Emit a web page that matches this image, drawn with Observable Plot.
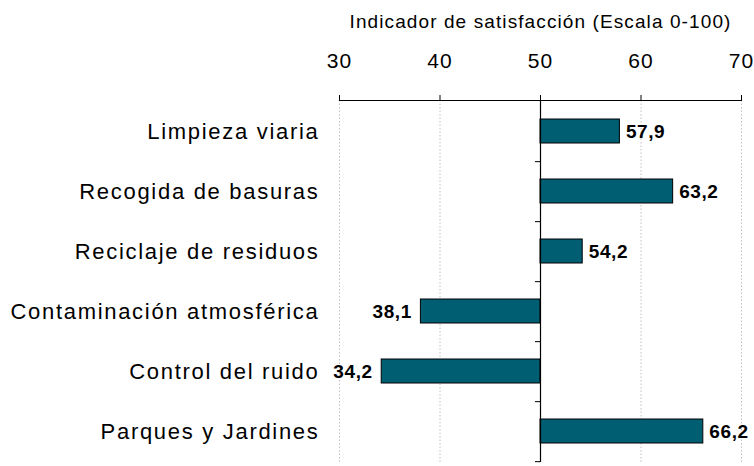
<!DOCTYPE html>
<html>
<head>
<meta charset="utf-8">
<script src="https://cdn.jsdelivr.net/npm/d3@7"></script>
<script src="https://cdn.jsdelivr.net/npm/@observablehq/plot@0.6"></script>
<style>
  html, body { margin: 0; padding: 0; background: #fff; }
  #chart svg { display: block; }
  #chart g[aria-label="y-axis tick label"] text { letter-spacing: 1.7px; }
  #chart g[aria-label="x-axis tick label"] text { letter-spacing: 1px; }
  #chart g.title text { letter-spacing: 1.1px; }
  #chart g.vals text { letter-spacing: 0.6px; }
</style>
</head>
<body>
<div id="chart"></div>
<script>
const categories = [
  "Limpieza viaria",
  "Recogida de basuras",
  "Reciclaje de residuos",
  "Contaminación atmosférica",
  "Control del ruido",
  "Parques y Jardines"
];
const values = [57.9, 63.2, 54.2, 38.1, 34.2, 66.2];
const xTicks = [30, 40, 50, 60, 70];
const gridTicks = [30, 40, 60, 70];
const baseline = 50;
const title = "Indicador de satisfacción (Escala 0-100)";

const data = categories.map((c, i) => ({category: c, value: values[i]}));
const above = data.filter(d => d.value >= baseline);
const below = data.filter(d => d.value < baseline);

const W = 754, H = 466;
const mTop = 100, mBottom = 4, mLeft = 339, mRight = 13;
const step = (H - mTop - mBottom) / categories.length;
const fmt = v => v.toFixed(1).replace(".", ",");
const barColor = "#005e73";
const valStyle = {y: "category", x: "value", text: d => fmt(d.value), fontWeight: "bold", fontSize: 19, fill: "#000", className: "vals"};

const chart = Plot.plot({
  width: W,
  height: H,
  marginTop: mTop,
  marginBottom: mBottom,
  marginLeft: mLeft,
  marginRight: mRight,
  style: {fontFamily: "'Liberation Sans', Arial, sans-serif", color: "#000", background: "#fff"},
  x: {domain: [30, 70]},
  y: {domain: categories, paddingInner: 0.6, paddingOuter: 0.3},
  marks: [
    Plot.ruleX(gridTicks, {stroke: "#c0c0c0", strokeDasharray: "1.5,2"}),
    Plot.barX(data, {y: "category", x1: baseline, x2: "value", fill: barColor, stroke: "#000", strokeWidth: 1}),
    Plot.ruleX([baseline], {stroke: "#000", strokeWidth: 1.2}),
    Plot.ruleY(categories, {y: d => d, x1: baseline - 0.5, x2: baseline, dy: step / 2, stroke: "#000"}),
    Plot.frame({anchor: "top", stroke: "#000", strokeWidth: 1.2}),
    Plot.axisX({anchor: "top", ticks: xTicks, tickSize: 6, tickPadding: 27, fontSize: 21, label: null, tickFormat: d => String(d)}),
    Plot.axisY({tickSize: 0, tickPadding: 20, fontSize: 22, label: null}),
    Plot.text(above, {...valStyle, textAnchor: "start", dx: 6}),
    Plot.text(below, {...valStyle, textAnchor: "end", dx: -9}),
    Plot.text([title], {x: baseline, frameAnchor: "top", dy: -86, text: d => d, fontSize: 19, textAnchor: "middle", fill: "#000", className: "title"})
  ]
});
document.getElementById("chart").appendChild(chart);
</script>
</body>
</html>
